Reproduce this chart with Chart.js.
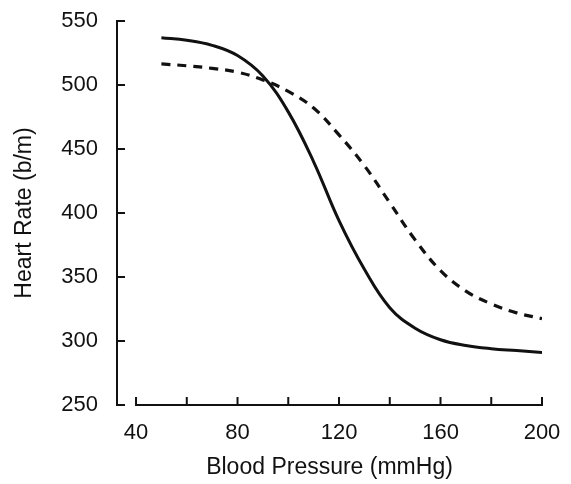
<!DOCTYPE html>
<html lang="en">
<head>
    <meta charset="UTF-8">
    <title>Heart Rate vs Blood Pressure</title>
    <style>
        * {
            margin: 0;
            padding: 0;
            box-sizing: border-box;
        }

        body {
            background-color: #fff;
            width: 571px;
            height: 484px;
            overflow: hidden;
        }

        canvas {
            display: block;
        }
    </style>
    <script src="https://cdn.jsdelivr.net/npm/chart.js"></script>
</head>
<body>
    <canvas id="hrChart" width="571" height="484"></canvas>

    <script>
        // data
        const bloodPressure = [50, 60, 70, 80, 90, 100, 110, 120, 130, 140, 150, 160, 170, 180, 190, 200];
        const heartRateSolid = [537, 535, 531, 523, 507, 479, 440, 394, 356, 326, 310, 301, 296.5, 294, 292.5, 291];
        const heartRateDashed = [516.5, 515, 513, 510, 504, 495, 482, 461, 437, 408, 379, 355, 339, 329, 322, 317.5];

        const xTicks = [40, 60, 80, 100, 120, 140, 160, 180, 200];
        const xLabels = [40, 80, 120, 160, 200];
        const yTicks = [250, 300, 350, 400, 450, 500, 550];

        const inkColor = '#111';
        const fontFamily = '"Liberation Sans", Arial, Helvetica, sans-serif';

        function toPoints(ys) {
            return bloodPressure.map((x, i) => ({ x: x, y: ys[i] }));
        }

        // the scales would otherwise reserve extra room for label overflow
        function noOverflow(scale) {
            scale.paddingTop = 0;
            scale.paddingBottom = 0;
            scale.paddingLeft = 0;
            scale.paddingRight = 0;
        }

        // axis lines with inward ticks, like the original figure
        const axesPlugin = {
            id: 'paperAxes',
            afterDraw(chart) {
                const ctx = chart.ctx;
                const xs = chart.scales.x;
                const ys = chart.scales.y;
                const tick = 7;
                ctx.save();
                ctx.strokeStyle = inkColor;
                ctx.lineWidth = 2;
                ctx.lineCap = 'square';

                // y axis
                const yAxisX = chart.chartArea.left;
                ctx.beginPath();
                ctx.moveTo(yAxisX, ys.getPixelForValue(yTicks[0]));
                ctx.lineTo(yAxisX, ys.getPixelForValue(yTicks[yTicks.length - 1]));
                yTicks.forEach(v => {
                    const py = ys.getPixelForValue(v);
                    ctx.moveTo(yAxisX, py);
                    ctx.lineTo(yAxisX + tick, py);
                });
                ctx.stroke();

                // x axis (starts at 40, detached from the y axis)
                const xAxisY = ys.getPixelForValue(yTicks[0]);
                ctx.beginPath();
                ctx.moveTo(xs.getPixelForValue(xTicks[0]), xAxisY);
                ctx.lineTo(xs.getPixelForValue(xTicks[xTicks.length - 1]), xAxisY);
                xTicks.forEach(v => {
                    const px = xs.getPixelForValue(v);
                    ctx.moveTo(px, xAxisY);
                    ctx.lineTo(px, xAxisY - tick);
                });
                ctx.stroke();
                ctx.restore();
            }
        };

        const ctx = document.getElementById('hrChart').getContext('2d');
        new Chart(ctx, {
            type: 'line',
            data: {
                datasets: [
                    {
                        label: 'solid',
                        data: toPoints(heartRateSolid),
                        borderColor: inkColor,
                        borderWidth: 3,
                        pointRadius: 0,
                        fill: false,
                        tension: 0.4
                    },
                    {
                        label: 'dashed',
                        data: toPoints(heartRateDashed),
                        borderColor: inkColor,
                        borderWidth: 3.2,
                        borderDash: [9, 7],
                        pointRadius: 0,
                        fill: false,
                        tension: 0.4
                    }
                ]
            },
            options: {
                responsive: false,
                animation: false,
                layout: {
                    padding: { top: 21, right: 29, left: 0, bottom: 0 }
                },
                plugins: {
                    legend: { display: false },
                    tooltip: { enabled: false }
                },
                scales: {
                    x: {
                        type: 'linear',
                        min: 32.5,
                        max: 200,
                        border: { display: false },
                        grid: { display: false, drawTicks: false },
                        afterBuildTicks: scale => {
                            scale.ticks = xTicks.map(v => ({ value: v }));
                        },
                        afterFit: scale => {
                            scale.height = 79;
                            noOverflow(scale);
                        },
                        ticks: {
                            autoSkip: false,
                            maxRotation: 0,
                            padding: 15,
                            color: inkColor,
                            font: { family: fontFamily, size: 22 },
                            callback: v => xLabels.includes(v) ? String(v) : ''
                        },
                        title: {
                            display: true,
                            text: 'Blood Pressure (mmHg)',
                            color: inkColor,
                            font: { family: fontFamily, size: 23 },
                            padding: { top: 0, bottom: 3 }
                        }
                    },
                    y: {
                        min: 250,
                        max: 550,
                        border: { display: false },
                        grid: { display: false, drawTicks: false },
                        afterBuildTicks: scale => {
                            scale.ticks = yTicks.map(v => ({ value: v }));
                        },
                        afterFit: scale => {
                            scale.width = 117;
                            noOverflow(scale);
                        },
                        ticks: {
                            padding: 19,
                            color: inkColor,
                            font: { family: fontFamily, size: 22 }
                        },
                        title: {
                            display: true,
                            text: 'Heart Rate (b/m)',
                            color: inkColor,
                            font: { family: fontFamily, size: 23 },
                            padding: { top: 11, bottom: 0 }
                        }
                    }
                }
            },
            plugins: [axesPlugin]
        });
    </script>
</body>
</html>
